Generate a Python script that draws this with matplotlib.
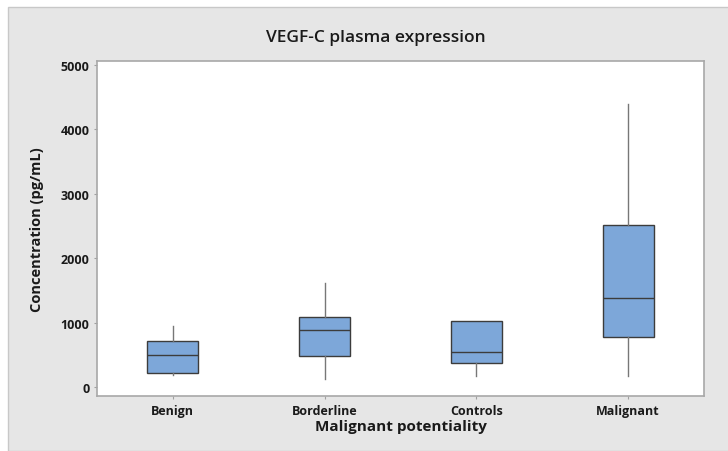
import matplotlib.pyplot as plt
from matplotlib.patches import Rectangle

# VEGF-C plasma concentration summary per group (pg/mL)
groups = ['Benign', 'Borderline', 'Controls', 'Malignant']
whisker_low = [186, 124, 171, 171]
q1 = [217, 481, 373, 776]
median = [497, 885, 543, 1382]
q3 = [714, 1087, 1025, 2515]
whisker_high = [947, 1615, 1025, 4394]

plt.rcParams['font.family'] = ['Open Sans', 'DejaVu Sans']

fig = plt.figure(figsize=(7.28, 4.52), dpi=100, facecolor='white')

# grey panel behind the chart
fig.patches.append(Rectangle((8 / 728, 0), 1, 1 - 8 / 452, transform=fig.transFigure,
                             facecolor='#e6e6e6', edgecolor='#c8c8c8', lw=1, zorder=-5))

ax = fig.add_axes([97 / 728, 1 - 397 / 452, (704 - 97) / 728, (397 - 62) / 452])
ax.set_facecolor('white')

stats = []
for i, g in enumerate(groups):
    stats.append({'label': g, 'whislo': whisker_low[i], 'q1': q1[i], 'med': median[i],
                  'q3': q3[i], 'whishi': whisker_high[i], 'fliers': []})

ax.bxp(stats, positions=[1, 2, 3, 4], widths=0.335, patch_artist=True, showcaps=False,
       boxprops=dict(facecolor='#7da7d9', edgecolor='#3c3c3c', linewidth=1.0),
       medianprops=dict(color='#3c3c3c', linewidth=1.0),
       whiskerprops=dict(color='#777777', linewidth=1.0))

ax.set_xlim(0.5, 4.5)
ax.set_ylim(-140, 5062)
ax.set_yticks([0, 1000, 2000, 3000, 4000, 5000])
ax.set_xticks([1, 2, 3, 4])
ax.set_xticklabels(groups)

for s in ax.spines.values():
    s.set_color('#a8a8a8')
    s.set_linewidth(1.2)
ax.tick_params(axis='both', length=2.5, width=0.8, color='#a0a0a0', pad=3,
               labelsize=9, labelcolor='#1a1a1a')
for lbl in ax.get_xticklabels() + ax.get_yticklabels():
    lbl.set_fontweight('bold')

ax.set_ylabel('Concentration (pg/mL)', fontsize=10.5, fontweight='bold', color='#1a1a1a', labelpad=12)
ax.set_xlabel('Malignant potentiality', fontsize=11, fontweight='bold', color='#1a1a1a', labelpad=2)

fig.text(376 / 728, 1 - 38 / 452, 'VEGF-C plasma expression', ha='center', va='center',
         fontsize=12.5, fontweight='semibold', color='#1a1a1a')

fig.savefig('out.png', dpi=100, facecolor=fig.get_facecolor())
